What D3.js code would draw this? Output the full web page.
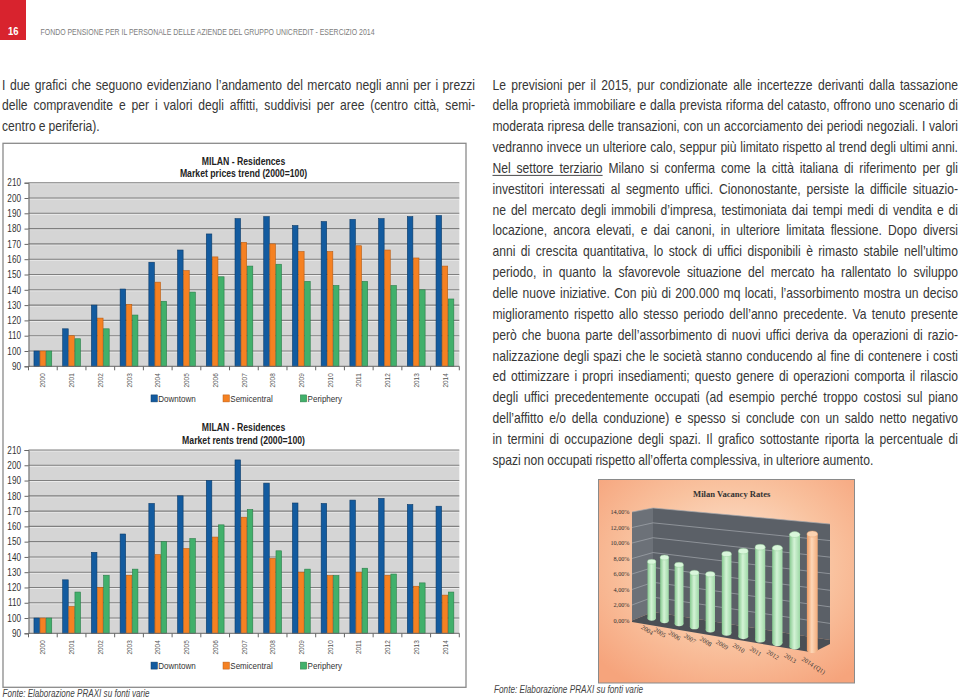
<!DOCTYPE html>
<html>
<head>
<meta charset="utf-8">
<script src="https://cdn.jsdelivr.net/npm/d3@7"></script>
<style>
html,body{margin:0;padding:0;background:#fff;}
svg{display:block;}
</style>
</head>
<body>
<svg id="page" width="960" height="699"></svg>
<script>
// ---------------- DATA ----------------
const years = ["2000","2001","2002","2003","2004","2005","2006","2007","2008","2009","2010","2011","2012","2013","2014"];
const seriesNames = ["Downtown","Semicentral","Periphery"];
const priceDowntown    = [100,114.5,130,140.5,158,166,176.5,186.5,187.8,182,184.6,186,186.5,187.8,188.5];
const priceSemicentral = [100,110,121.5,130.5,145,152.5,161.5,171,170,165,165,168.8,166,160.8,155.5];
const pricePeriphery   = [100,108,114.5,123.5,132.5,138.5,148.5,155.5,156.7,145.5,142.8,145.5,142.8,140,134];
const rentDowntown     = [100,125,143,155,175,180,190,203.5,188.3,175.3,175,177.2,178.3,174.3,173.2];
const rentSemicentral  = [100,107.5,120,128,141.5,145.5,153,166,139,130,127.8,130,128,120.8,115];
const rentPeriphery    = [100,117,128,132,150,152,161,171,144,132,127.8,132.6,128.8,123,117];
const yTicks = [90,100,110,120,130,140,150,160,170,180,190,200,210];

const vacancyYears = ["2004","2005","2006","2007","2008","2009","2010","2011","2012","2013","2014 (Q1)"];
const vacancyRates = [7.3,7.9,7.1,6.3,6.3,8.7,9.1,9.6,9.6,11.0,11.1];
const vacancyTicks = [0,2,4,6,8,10,12,14];

const leftText = [
 "I due grafici che seguono evidenziano l’andamento del mercato negli anni per i prezzi",
 "delle compravendite e per i valori degli affitti, suddivisi per aree (centro città, semi-",
 "centro e periferia)."
];
const rightText = [
 "Le previsioni per il 2015, pur condizionate alle incertezze derivanti dalla tassazione",
 "della proprietà immobiliare e dalla prevista riforma del catasto, offrono uno scenario di",
 "moderata ripresa delle transazioni, con un accorciamento dei periodi negoziali. I valori",
 "vedranno invece un ulteriore calo, seppur più limitato rispetto al trend degli ultimi anni.",
 "Nel settore terziario Milano si conferma come la città italiana di riferimento per gli",
 "investitori interessati al segmento uffici. Ciononostante, persiste la difficile situazio-",
 "ne del mercato degli immobili d’impresa, testimoniata dai tempi medi di vendita e di",
 "locazione, ancora elevati, e dai canoni, in ulteriore limitata flessione. Dopo diversi",
 "anni di crescita quantitativa, lo stock di uffici disponibili è rimasto stabile nell’ultimo",
 "periodo, in quanto la sfavorevole situazione del mercato ha rallentato lo sviluppo",
 "delle nuove iniziative. Con più di 200.000 mq locati, l’assorbimento mostra un deciso",
 "miglioramento rispetto allo stesso periodo dell’anno precedente. Va tenuto presente",
 "però che buona parte dell’assorbimento di nuovi uffici deriva da operazioni di razio-",
 "nalizzazione degli spazi che le società stanno conducendo al fine di contenere i costi",
 "ed ottimizzare i propri insediamenti; questo genere di operazioni comporta il rilascio",
 "degli uffici precedentemente occupati (ad esempio perché troppo costosi sul piano",
 "dell’affitto e/o della conduzione) e spesso si conclude con un saldo netto negativo",
 "in termini di occupazione degli spazi. Il grafico sottostante riporta la percentuale di",
 "spazi non occupati rispetto all’offerta complessiva, in ulteriore aumento."
];
const headerText = "FONDO PENSIONE PER IL PERSONALE DELLE AZIENDE DEL GRUPPO UNICREDIT - ESERCIZIO 2014";
const sourceText = "Fonte: Elaborazione PRAXI su fonti varie";

// ---------------- STYLE ----------------
const SANS = "'Liberation Sans',Arial,sans-serif";
const SERIF = "'Liberation Serif','DejaVu Serif',serif";
const NX = 0.82; // horizontal condensation (Arial Narrow = Arial at 82%)
const fills = ["#135b9f","#f58122","#41b06b"];
const strokes = ["#0a3a68","#b85b12","#2a7d48"];

const svg = d3.select("#page");
const defs = svg.append("defs");

function ntext(parent, x, y, str, size, opts={}){
  const t = parent.append("text")
    .attr("transform",`translate(${x},${y}) scale(${opts.sx||NX},1)`)
    .attr("font-family",SANS).attr("font-size",size).attr("fill",opts.fill||"#333")
    .attr("text-anchor",opts.anchor||"start").text(str);
  if (opts.bold) t.attr("font-weight","bold");
  if (opts.italic) t.attr("font-style","italic");
  return t;
}

// ---------------- HEADER ----------------
svg.append("rect").attr("x",0).attr("y",0).attr("width",26).attr("height",40).attr("fill","#d8232e");
ntext(svg,13.3,34.5,"16",11.5,{bold:true,fill:"#fff",anchor:"middle"});
svg.append("text").attr("x",40.5).attr("y",34.5).attr("font-family",SANS).attr("font-size",8.4)
  .attr("fill","#7d7d7d").attr("textLength",334).attr("lengthAdjust","spacingAndGlyphs").text(headerText);

// ---------------- BODY TEXT ----------------
const FS = 14.8, LH = 20.85, BASE = 89.5;
const meas = svg.append("text").attr("font-family",SANS).attr("font-size",FS).attr("visibility","hidden");
function wordW(w){ meas.text(w); return meas.node().getComputedTextLength(); }
function setLine(g, str, x0, x1, y, doJustify){
  const words = str.split(" ");
  const widths = words.map(wordW);
  const sum = d3.sum(widths);
  let sx = NX, gap = FS*0.25*NX;
  if (doJustify){
    gap = (x1-x0-sum*sx)/(words.length-1);
    const gmin = FS*0.19;
    if (gap < gmin){ gap = gmin; sx = (x1-x0-gap*(words.length-1))/sum; }
  }
  const t = g.append("text").attr("transform",`translate(${x0},${y}) scale(${sx},1)`);
  let x = 0; const pos=[];
  words.forEach((w,i)=>{
    t.append("tspan").attr("x",x/sx).text(w);
    pos.push([x0+x, x0+x+widths[i]*sx]);
    x += widths[i]*sx + gap;
  });
  return pos;
}
const bodyG = svg.append("g").attr("font-family",SANS).attr("font-size",FS).attr("fill","#363636");
leftText.forEach((t,i)=> setLine(bodyG, t, 2, 475, BASE+i*LH, i<leftText.length-1));
rightText.forEach((t,i)=>{
  const pos = setLine(bodyG, t, 492.5, 958, BASE+i*LH, i<rightText.length-1);
  if (i===4){
    bodyG.append("line").attr("x1",pos[0][0]).attr("x2",pos[2][1])
      .attr("y1",BASE+i*LH+2.5).attr("y2",BASE+i*LH+2.5).attr("stroke","#363636").attr("stroke-width",0.9);
  }
});
meas.remove();

// ---------------- BAR CHARTS ----------------
svg.append("rect").attr("x",3).attr("y",143.3).attr("width",463).attr("height",544)
  .attr("fill","#fff").attr("stroke","#8a8a8a").attr("stroke-width",1.3);

function barChart(cfg){
  const g = svg.append("g").attr("font-family",SANS);
  const left = 28.5, right = 459.3;
  const x = d3.scaleBand().domain(years).range([left,right]).paddingInner(0.36).paddingOuter(0.18);
  const xs = d3.scaleBand().domain(seriesNames).range([0,x.bandwidth()]);
  const y = d3.scaleLinear().domain([90,210]).range([cfg.bottom,cfg.top]);
  g.append("rect").attr("x",left).attr("y",y(210)).attr("width",right-left).attr("height",y(90)-y(210)).attr("fill","#d5d5d5");
  g.selectAll(".gl").data(yTicks.slice(1)).join("line")
    .attr("x1",left).attr("x2",right).attr("y1",d=>y(d)+1).attr("y2",d=>y(d)+1).attr("stroke","#f2f2f2").attr("stroke-width",0.8);
  g.selectAll(".gd").data(yTicks.slice(1)).join("line")
    .attr("x1",left).attr("x2",right).attr("y1",d=>y(d)).attr("y2",d=>y(d)).attr("stroke","#7f7f7f").attr("stroke-width",1.1);
  ntext(g,243.5,cfg.titleY,"MILAN - Residences",10.6,{bold:true,fill:"#222",anchor:"middle"});
  ntext(g,243.5,cfg.titleY+12.3,cfg.subtitle,10.6,{bold:true,fill:"#222",anchor:"middle"});
  const rows = years.map((yr,i)=>({yr, vals: cfg.series.map((s,j)=>({name:seriesNames[j], v:s[i], j}))}));
  const grp = g.selectAll(".grp").data(rows).join("g").attr("transform",d=>`translate(${x(d.yr)},0)`);
  grp.selectAll("rect").data(d=>d.vals).join("rect")
    .attr("x",d=>xs(d.name)+0.3).attr("width",xs.bandwidth()-0.6)
    .attr("y",d=>y(d.v)).attr("height",d=>y(90)-y(d.v))
    .attr("fill",d=>fills[d.j]).attr("stroke",d=>strokes[d.j]).attr("stroke-width",0.6);
  const ya = d3.axisLeft(y).tickValues(yTicks).tickSize(4).tickPadding(3.5);
  const yg = g.append("g").attr("transform",`translate(${left},0)`).call(ya);
  yg.select(".domain").attr("stroke","#666");
  yg.selectAll(".tick line").attr("stroke","#666");
  yg.selectAll(".tick text").attr("font-family",SANS).attr("font-size",10).attr("fill","#333")
    .attr("x",-7.5/NX).attr("transform",`scale(${NX},1)`);
  const xg = g.append("g").attr("transform",`translate(0,${y(90)})`);
  xg.append("line").attr("x1",left).attr("x2",right).attr("stroke","#666");
  const step = x.step();
  xg.selectAll(".xt").data(d3.range(years.length+1)).join("line")
    .attr("x1",d=>left+d*step).attr("x2",d=>left+d*step).attr("y1",0).attr("y2",4).attr("stroke","#666");
  xg.selectAll(".xl").data(years).join("text")
    .attr("transform",d=>`translate(${x(d)+x.bandwidth()/2+2.6},7) rotate(-90) scale(${NX},1)`)
    .attr("text-anchor","end").attr("font-size",7.8).attr("fill","#555").text(d=>d);
  const legX = [151,223,300.3];
  const lg = g.selectAll(".lg").data(seriesNames).join("g").attr("transform",(d,i)=>`translate(${legX[i]},${cfg.legendY})`);
  lg.append("rect").attr("x",0).attr("y",-3.6).attr("width",6.4).attr("height",7)
    .attr("fill",(d,i)=>fills[i]).attr("stroke",(d,i)=>strokes[i]).attr("stroke-width",0.5);
  lg.each(function(d){ ntext(d3.select(this),7.3,3.4,d,9.8,{fill:"#333"}); });
}
barChart({top:182.7,bottom:366.3,titleY:164.5,subtitle:"Market prices trend (2000=100)",legendY:398.5,
  series:[priceDowntown,priceSemicentral,pricePeriphery]});
barChart({top:450,bottom:633.3,titleY:431.3,subtitle:"Market rents trend (2000=100)",legendY:665.7,
  series:[rentDowntown,rentSemicentral,rentPeriphery]});

// ---------------- SOURCES ----------------
ntext(svg,2.5,696.5,sourceText,11.4,{italic:true,fill:"#444",sx:0.71});
ntext(svg,494,692.5,sourceText,11.4,{italic:true,fill:"#444",sx:0.72});

// ---------------- VACANCY CHART ----------------
const bg = defs.append("radialGradient").attr("id","vbg").attr("cx","52%").attr("cy","42%").attr("r","70%");
bg.append("stop").attr("offset","0%").attr("stop-color","#fde9da");
bg.append("stop").attr("offset","55%").attr("stop-color","#f9c3a0");
bg.append("stop").attr("offset","100%").attr("stop-color","#f6a47c");
function cylGrad(id, c1, c2, c3){
  const lgr = defs.append("linearGradient").attr("id",id).attr("x1","0%").attr("x2","100%");
  lgr.append("stop").attr("offset","0%").attr("stop-color",c1);
  lgr.append("stop").attr("offset","45%").attr("stop-color",c2);
  lgr.append("stop").attr("offset","100%").attr("stop-color",c3);
}
cylGrad("cg","#86c98f","#d4f3d6","#9ed8a6");
cylGrad("co","#ee9a62","#fdd7b8","#f2ab7a");

const vg = svg.append("g");
vg.append("rect").attr("x",598.5).attr("y",479.5).attr("width",256).attr("height",203.5)
  .attr("fill","url(#vbg)").attr("stroke","#8a8a8a").attr("stroke-width",1);
vg.append("text").attr("x",731.7).attr("y",496.5).attr("text-anchor","middle").attr("font-family",SERIF)
  .attr("font-weight","bold").attr("font-size",8.6).attr("fill","#333").text("Milan Vacancy Rates");

const wallL = 632, wallB = 653, wallR = 830;
const yLeftEdge = d3.scaleLinear().domain([0,14]).range([620.5,512]);
const yBackL = d3.scaleLinear().domain([0,14]).range([612,508]);
const yBackR = d3.scaleLinear().domain([0,14]).range([640,524]);
vg.append("polygon").attr("points",[[wallL,yLeftEdge(14)],[wallB,yBackL(14)],[wallB,yBackL(0)],[wallL,yLeftEdge(0)]].join(" "))
  .attr("fill","#6c7178");
vg.append("polygon").attr("points",[[wallB,yBackL(14)],[wallR,yBackR(14)],[wallR,yBackR(0)],[wallB,yBackL(0)]].join(" "))
  .attr("fill","#5b6067");
vg.append("polygon").attr("points",[[wallL,yLeftEdge(0)],[wallB,yBackL(0)],[wallR,yBackR(0)],[wallR,yBackR(0)+4],[813,652.5],[wallL,yLeftEdge(0)+1.5]].join(" "))
  .attr("fill","#4b4f55");
vg.selectAll(".vgl").data(vacancyTicks.slice(1)).join("polyline")
  .attr("points",d=>[[wallL,yLeftEdge(d)],[wallB,yBackL(d)],[wallR,yBackR(d)]].join(" "))
  .attr("fill","none").attr("stroke","#a3a8ae").attr("stroke-width",0.7);
vg.selectAll(".vyl").data(vacancyTicks).join("text")
  .attr("x",629.5).attr("y",d=>yLeftEdge(d)+2.2).attr("text-anchor","end").attr("font-family",SERIF)
  .attr("font-size",6.2).attr("fill","#333").text(d=>d.toFixed(2).replace(".",",")+"%");

const vi = d3.range(vacancyYears.length);
const vx = d3.scalePow().exponent(1.1).domain([0,10]).range([651.7,812.3]);
const vBase = d3.scalePow().exponent(1.1).domain([0,10]).range([618.3,650]);
const vK = d3.scaleLinear().domain([0,10]).range([7.75,10.45]);
const vW = d3.scaleLinear().domain([0,10]).range([8.4,10.8]);
const cyl = vg.selectAll(".cyl").data(vi).join("g");
cyl.each(function(i){
  const gg = d3.select(this);
  const cx = vx(i), by = vBase(i), w = vW(i), h = vacancyRates[i]*vK(i), ry = w*0.28;
  const last = i===vi.length-1;
  const fillId = last ? "url(#co)" : "url(#cg)";
  gg.append("ellipse").attr("cx",cx).attr("cy",by).attr("rx",w/2).attr("ry",ry).attr("fill",fillId);
  gg.append("rect").attr("x",cx-w/2).attr("y",by-h).attr("width",w).attr("height",h).attr("fill",fillId);
  gg.append("ellipse").attr("cx",cx).attr("cy",by-h).attr("rx",w/2).attr("ry",ry).attr("fill",last?"#fbd2b1":"#d9f6db")
    .attr("stroke",last?"#e89a66":"#8fc896").attr("stroke-width",0.4);
});
vg.selectAll(".vxl").data(vi).join("text")
  .attr("transform",i=>`translate(${vx(i)-11},${vBase(i)+10}) rotate(33)`)
  .attr("font-family",SERIF).attr("font-size",6.4).attr("fill","#333").text(i=>vacancyYears[i]);
</script>
</body>
</html>
